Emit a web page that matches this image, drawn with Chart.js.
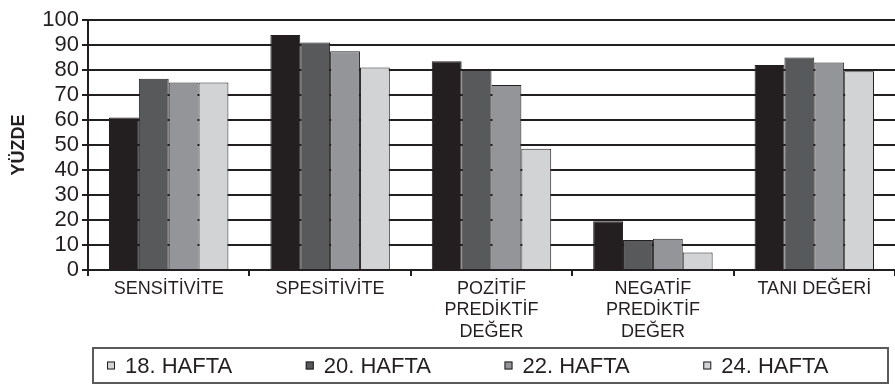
<!DOCTYPE html>
<html>
<head>
<meta charset="utf-8">
<script src="https://cdn.jsdelivr.net/npm/chart.js@4.4.1/dist/chart.umd.min.js"></script>
<style>
  html, body { margin: 0; padding: 0; background: #fff; }
  #wrap { width: 895px; height: 388px; position: relative; }
</style>
</head>
<body>
<div id="wrap"><canvas id="c" width="895" height="388"></canvas></div>
<script>
// Categories (multi-line labels as arrays)
const categories = [
  'SENSİTİVİTE',
  'SPESİTİVİTE',
  ['POZİTİF', 'PREDİKTİF', 'DEĞER'],
  ['NEGATİF', 'PREDİKTİF', 'DEĞER'],
  'TANI DEĞERİ'
];

// Series names
const seriesNames = ['18. HAFTA', '20. HAFTA', '22. HAFTA', '24. HAFTA'];

// Percent values per week
const week18 = [61, 94, 83.5, 19.5, 82];
const week20 = [76.5, 91, 80, 12, 85];
const week22 = [75, 87.5, 74, 12.5, 83];
const week24 = [75, 81, 48.5, 7, 79.5];

// Y tick values
const yTicks = [0, 10, 20, 30, 40, 50, 60, 70, 80, 90, 100];

const barColors = ['#231f20', '#58595b', '#939598', '#d1d3d4'];
// Legend swatch colours as printed in the key
const legendColors = ['#d1d3d4', '#58595b', '#939598', '#d1d3d4'];

const ink = '#231f20';
const fontFam = '"Liberation Sans", Arial, Helvetica, sans-serif';

const seriesData = [week18, week20, week22, week24];

// Boxed legend drawn under the axis
const boxedLegend = {
  id: 'boxedLegend',
  afterDraw(chart) {
    const ctx = chart.ctx;
    const left = 93, top = 348, right = 888, bottom = 383;
    ctx.save();
    ctx.strokeStyle = '#5a5a5a';
    ctx.lineWidth = 2;
    ctx.strokeRect(left, top, right - left, bottom - top);
    const step = (right - left) / 4.0;
    const cy = (top + bottom) / 2;
    ctx.font = '22px ' + fontFam;
    ctx.textBaseline = 'middle';
    ctx.textAlign = 'left';
    seriesNames.forEach((name, i) => {
      const mx = left + 14 + i * step;
      ctx.fillStyle = legendColors[i];
      ctx.fillRect(mx, cy - 4, 8, 8);
      ctx.strokeStyle = ink;
      ctx.lineWidth = 1;
      ctx.strokeRect(mx + 0.5, cy - 3.5, 7, 7);
      ctx.fillStyle = ink;
      ctx.fillText(name, mx + 18, cy + 1);
    });
    ctx.restore();
  }
};

new Chart(document.getElementById('c'), {
  type: 'bar',
  data: {
    labels: categories,
    datasets: seriesNames.map((name, i) => ({
      label: name,
      data: seriesData[i],
      backgroundColor: barColors[i],
      borderColor: ink,
      borderWidth: 1,
      categoryPercentage: 0.74,
      barPercentage: 1.0
    }))
  },
  options: {
    responsive: false,
    animation: false,
    layout: { padding: { top: 20, right: 0, bottom: 40, left: 0 } },
    plugins: {
      legend: { display: false },
      tooltip: { enabled: false }
    },
    scales: {
      x: {
        grid: {
          display: true,
          drawOnChartArea: false,
          drawTicks: true,
          tickLength: 6,
          color: ink,
          lineWidth: 2,
          offset: true
        },
        border: { display: true, color: ink, width: 2 },
        ticks: {
          color: ink,
          font: { family: fontFam, size: 18 },
          padding: 2,
          maxRotation: 0,
          autoSkip: false
        },
        afterFit(scale) { scale.height = 78; }
      },
      y: {
        min: 0,
        max: 100,
        afterBuildTicks(scale) { scale.ticks = yTicks.map(v => ({ value: v })); },
        grid: {
          color: ink,
          lineWidth: 2,
          drawTicks: true,
          tickLength: 6
        },
        border: { display: true, color: ink, width: 2 },
        ticks: {
          color: ink,
          font: { family: fontFam, size: 22 },
          padding: 3,
          autoSkip: false
        },
        title: {
          display: true,
          text: 'YÜZDE',
          color: ink,
          font: { family: fontFam, size: 18, weight: 'bold' },
          padding: { top: 8, bottom: 0 }
        },
        afterFit(scale) { scale.width = 88; }
      }
    }
  },
  plugins: [boxedLegend]
});
</script>
</body>
</html>
